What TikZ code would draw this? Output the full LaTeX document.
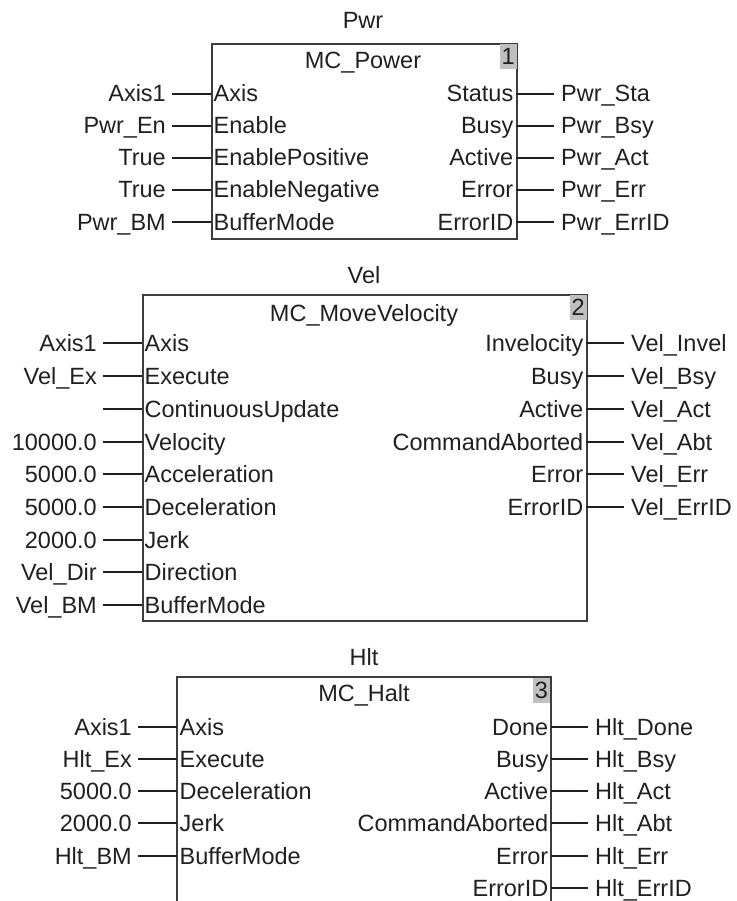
\documentclass[tikz,border=0pt]{standalone}
\usepackage{fontspec}
\setmainfont{Liberation Sans}
\usepackage{tikz}
\definecolor{fbink}{RGB}{35,31,32}
\definecolor{fbframe}{RGB}{64,60,60}
\definecolor{fbbadge}{RGB}{192,192,192}
\usetikzlibrary{positioning}

\begin{document}
\begin{tikzpicture}[x=1pt,y=-1pt,
  font=\fontsize{23.5}{27}\selectfont,text=fbink,
  lbl/.style={inner xsep=2.5pt,inner ysep=0pt,text height=16pt,text depth=0pt},
  inpin/.style={lbl,anchor=west},
  outpin/.style={lbl,anchor=east},
  invar/.style={lbl,anchor=east,inner xsep=6pt},
  outvar/.style={lbl,anchor=west,inner xsep=7pt},
  fbbox/.style={draw=fbframe,line width=1.6pt,inner sep=0pt,anchor=north west},
  badge/.style={fill=fbbadge,anchor=north east,minimum width=17pt,minimum height=25pt,inner sep=0pt},
  wire/.style={draw=fbink,line width=1.2pt}]
  \useasboundingbox (0,0) rectangle (736,901);

  % Pwr
  \node[fbbox,minimum width=305pt,minimum height=195pt] (pwr) at (211,43) {};
  \node[badge] (pwrNo) at ([xshift=-0.8pt,yshift=-0.8pt]pwr.north east) {1};
  \node[lbl] (pwrTag) at (363,21) {Pwr};
  \node[lbl] (pwrName) at (363,61) {MC\_Power};
  % Pwr inputs
  \node[inpin] (pwrI1) at (211,94) {Axis};
  \node[inpin] (pwrI2) at (211,126) {Enable};
  \node[inpin] (pwrI3) at (211,158) {EnablePositive};
  \node[inpin] (pwrI4) at (211,190) {EnableNegative};
  \node[inpin] (pwrI5) at (211,222) {BufferMode};
  \node[invar] (pwrV1) at (172,94) {Axis1};
  \node[invar] (pwrV2) at (172,126) {Pwr\_En};
  \node[invar] (pwrV3) at (172,158) {True};
  \node[invar] (pwrV4) at (172,190) {True};
  \node[invar] (pwrV5) at (172,222) {Pwr\_BM};
  \draw[wire] (pwrV1.east) -- (pwrI1.west);
  \draw[wire] (pwrV2.east) -- (pwrI2.west);
  \draw[wire] (pwrV3.east) -- (pwrI3.west);
  \draw[wire] (pwrV4.east) -- (pwrI4.west);
  \draw[wire] (pwrV5.east) -- (pwrI5.west);
  % Pwr outputs
  \node[outpin] (pwrO1) at (516,94) {Status};
  \node[outpin] (pwrO2) at (516,126) {Busy};
  \node[outpin] (pwrO3) at (516,158) {Active};
  \node[outpin] (pwrO4) at (516,190) {Error};
  \node[outpin] (pwrO5) at (516,222) {ErrorID};
  \node[outvar] (pwrW1) at (554,94) {Pwr\_Sta};
  \node[outvar] (pwrW2) at (554,126) {Pwr\_Bsy};
  \node[outvar] (pwrW3) at (554,158) {Pwr\_Act};
  \node[outvar] (pwrW4) at (554,190) {Pwr\_Err};
  \node[outvar] (pwrW5) at (554,222) {Pwr\_ErrID};
  \draw[wire] (pwrO1.east) -- (pwrW1.west);
  \draw[wire] (pwrO2.east) -- (pwrW2.west);
  \draw[wire] (pwrO3.east) -- (pwrW3.west);
  \draw[wire] (pwrO4.east) -- (pwrW4.west);
  \draw[wire] (pwrO5.east) -- (pwrW5.west);

  % Vel
  \node[fbbox,minimum width=444pt,minimum height=326pt] (vel) at (142,294) {};
  \node[badge] (velNo) at ([xshift=-0.8pt,yshift=-0.8pt]vel.north east) {2};
  \node[lbl] (velTag) at (364,275) {Vel};
  \node[lbl] (velName) at (364,313) {MC\_MoveVelocity};
  % Vel inputs
  \node[inpin] (velI1) at (142,343) {Axis};
  \node[inpin] (velI2) at (142,376) {Execute};
  \node[inpin] (velI3) at (142,409) {ContinuousUpdate};
  \node[inpin] (velI4) at (142,442) {Velocity};
  \node[inpin] (velI5) at (142,474) {Acceleration};
  \node[inpin] (velI6) at (142,507) {Deceleration};
  \node[inpin] (velI7) at (142,540) {Jerk};
  \node[inpin] (velI8) at (142,572) {Direction};
  \node[inpin] (velI9) at (142,605) {BufferMode};
  \node[invar] (velV1) at (103,343) {Axis1};
  \node[invar] (velV2) at (103,376) {Vel\_Ex};
  \coordinate (velV3) at (103,409);
  \node[invar] (velV4) at (103,442) {10000.0};
  \node[invar] (velV5) at (103,474) {5000.0};
  \node[invar] (velV6) at (103,507) {5000.0};
  \node[invar] (velV7) at (103,540) {2000.0};
  \node[invar] (velV8) at (103,572) {Vel\_Dir};
  \node[invar] (velV9) at (103,605) {Vel\_BM};
  \draw[wire] (velV1.east) -- (velI1.west);
  \draw[wire] (velV2.east) -- (velI2.west);
  \draw[wire] (velV3) -- (velI3.west);
  \draw[wire] (velV4.east) -- (velI4.west);
  \draw[wire] (velV5.east) -- (velI5.west);
  \draw[wire] (velV6.east) -- (velI6.west);
  \draw[wire] (velV7.east) -- (velI7.west);
  \draw[wire] (velV8.east) -- (velI8.west);
  \draw[wire] (velV9.east) -- (velI9.west);
  % Vel outputs
  \node[outpin] (velO1) at (586,343) {Invelocity};
  \node[outpin] (velO2) at (586,376) {Busy};
  \node[outpin] (velO3) at (586,409) {Active};
  \node[outpin] (velO4) at (586,442) {CommandAborted};
  \node[outpin] (velO5) at (586,474) {Error};
  \node[outpin] (velO6) at (586,507) {ErrorID};
  \node[outvar] (velW1) at (624,343) {Vel\_Invel};
  \node[outvar] (velW2) at (624,376) {Vel\_Bsy};
  \node[outvar] (velW3) at (624,409) {Vel\_Act};
  \node[outvar] (velW4) at (624,442) {Vel\_Abt};
  \node[outvar] (velW5) at (624,474) {Vel\_Err};
  \node[outvar] (velW6) at (624,507) {Vel\_ErrID};
  \draw[wire] (velO1.east) -- (velW1.west);
  \draw[wire] (velO2.east) -- (velW2.west);
  \draw[wire] (velO3.east) -- (velW3.west);
  \draw[wire] (velO4.east) -- (velW4.west);
  \draw[wire] (velO5.east) -- (velW5.west);
  \draw[wire] (velO6.east) -- (velW6.west);

  % Hlt (box runs on below the page)
  \coordinate (hltNW) at (177,677);
  \coordinate (hltNE) at (551,677);
  \node[badge] (hltNo) at ([xshift=-0.8pt,yshift=-0.8pt]hltNE) {3};
  \draw[draw=fbframe,line width=1.6pt] (hltNW |- 0,901) -- (hltNW) -- (hltNE) -- (hltNE |- 0,901);
  \node[lbl] (hltTag) at (364,657) {Hlt};
  \node[lbl] (hltName) at (364,693) {MC\_Halt};
  % Hlt inputs
  \node[inpin] (hltI1) at (177,727) {Axis};
  \node[inpin] (hltI2) at (177,759) {Execute};
  \node[inpin] (hltI3) at (177,791) {Deceleration};
  \node[inpin] (hltI4) at (177,823) {Jerk};
  \node[inpin] (hltI5) at (177,856) {BufferMode};
  \node[invar] (hltV1) at (138,727) {Axis1};
  \node[invar] (hltV2) at (138,759) {Hlt\_Ex};
  \node[invar] (hltV3) at (138,791) {5000.0};
  \node[invar] (hltV4) at (138,823) {2000.0};
  \node[invar] (hltV5) at (138,856) {Hlt\_BM};
  \draw[wire] (hltV1.east) -- (hltI1.west);
  \draw[wire] (hltV2.east) -- (hltI2.west);
  \draw[wire] (hltV3.east) -- (hltI3.west);
  \draw[wire] (hltV4.east) -- (hltI4.west);
  \draw[wire] (hltV5.east) -- (hltI5.west);
  % Hlt outputs
  \node[outpin] (hltO1) at (551,727) {Done};
  \node[outpin] (hltO2) at (551,759) {Busy};
  \node[outpin] (hltO3) at (551,791) {Active};
  \node[outpin] (hltO4) at (551,823) {CommandAborted};
  \node[outpin] (hltO5) at (551,856) {Error};
  \node[outpin] (hltO6) at (551,888) {ErrorID};
  \node[outvar] (hltW1) at (588,727) {Hlt\_Done};
  \node[outvar] (hltW2) at (588,759) {Hlt\_Bsy};
  \node[outvar] (hltW3) at (588,791) {Hlt\_Act};
  \node[outvar] (hltW4) at (588,823) {Hlt\_Abt};
  \node[outvar] (hltW5) at (588,856) {Hlt\_Err};
  \node[outvar] (hltW6) at (588,888) {Hlt\_ErrID};
  \draw[wire] (hltO1.east) -- (hltW1.west);
  \draw[wire] (hltO2.east) -- (hltW2.west);
  \draw[wire] (hltO3.east) -- (hltW3.west);
  \draw[wire] (hltO4.east) -- (hltW4.west);
  \draw[wire] (hltO5.east) -- (hltW5.west);
  \draw[wire] (hltO6.east) -- (hltW6.west);
\end{tikzpicture}
\end{document}
